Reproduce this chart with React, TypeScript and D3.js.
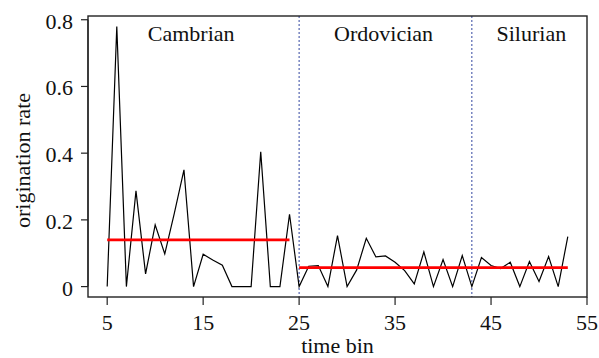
import React from 'react';
import * as d3 from 'd3';

// time bins 5..53 and origination rates
const bins: number[] = d3.range(5, 54);
const rates: number[] = [
  0, 0.78, 0, 0.287, 0.038, 0.185, 0.098, 0.22, 0.35, 0,
  0.097, 0.08, 0.064, 0, 0, 0, 0.404, 0, 0, 0.217,
  0, 0.061, 0.063, 0, 0.153, 0, 0.05, 0.145, 0.089, 0.092,
  0.073, 0.048, 0.008, 0.104, 0, 0.081, 0, 0.093, 0, 0.087,
  0.063, 0.054, 0.073, 0, 0.075, 0.015, 0.09, 0, 0.15,
];

// mean rate per regime (red segments)
const meanSegments = [
  { from: 5, to: 24, value: 0.14 },
  { from: 25, to: 53, value: 0.057 },
];

const boundaries: number[] = [25, 43];
const periods = [
  { name: 'Cambrian', at: 13.75 },
  { name: 'Ordovician', at: 33.8 },
  { name: 'Silurian', at: 49.2 },
];

const xTicks: number[] = [5, 15, 25, 35, 45, 55];
const yTicks: number[] = [0, 0.2, 0.4, 0.6, 0.8];

const W = 599;
const H = 358;
const font = '"Liberation Serif", "Times New Roman", serif';

const App: React.FC = () => {
  const x = d3.scaleLinear().domain([3, 55]).range([88, 587]);
  const y = d3.scaleLinear().domain([-0.0312, 0.8112]).range([297, 16]);

  const [x0, x1] = x.range();
  const [yb, yt] = y.range();

  const line = d3
    .line<number>()
    .x((_, i) => x(bins[i]))
    .y((d) => y(d));

  return (
    <svg
      width={W}
      height={H}
      style={{ position: 'absolute', left: 0, top: 0, background: '#fff' }}
      fontFamily={font}
    >
      {/* regime boundaries */}
      {boundaries.map((b) => (
        <line
          key={b}
          x1={x(b)}
          x2={x(b)}
          y1={yt}
          y2={yb}
          stroke="#3347a0"
          strokeWidth={1}
          strokeDasharray="2 2"
        />
      ))}

      <path d={line(rates) || ''} fill="none" stroke="#000" strokeWidth={1.2} strokeLinejoin="miter" />

      {meanSegments.map((s) => (
        <line
          key={s.from}
          x1={x(s.from)}
          x2={x(s.to)}
          y1={y(s.value)}
          y2={y(s.value)}
          stroke="#ff0000"
          strokeWidth={2.6}
        />
      ))}

      {/* box */}
      <rect x={x0} y={yt} width={x1 - x0} height={yb - yt} fill="none" stroke="#222" strokeWidth={1.4} />

      {/* y axis */}
      {yTicks.map((t) => (
        <g key={t}>
          <line x1={x0 - 7} x2={x0} y1={y(t)} y2={y(t)} stroke="#222" strokeWidth={1.2} />
          <text x={x0 - 15} y={y(t) + 9} textAnchor="end" fontSize={22} fill="#111">
            {t === 0 ? '0' : t.toFixed(1)}
          </text>
        </g>
      ))}
      <line x1={x0} x2={x0} y1={y(0)} y2={y(0.8)} stroke="#222" strokeWidth={1.2} />

      {/* x axis */}
      {xTicks.map((t) => (
        <g key={t}>
          <line x1={x(t)} x2={x(t)} y1={yb} y2={yb + 8} stroke="#222" strokeWidth={1.2} />
          <text x={x(t)} y={yb + 33} textAnchor="middle" fontSize={22} fill="#111">
            {t}
          </text>
        </g>
      ))}

      {periods.map((p) => (
        <text key={p.name} x={x(p.at)} y={40.5} textAnchor="middle" fontSize={22} fill="#111">
          {p.name}
        </text>
      ))}

      <text x={(x0 + x1) / 2} y={353} textAnchor="middle" fontSize={22} fill="#111">
        time bin
      </text>
      <text
        transform={`translate(30, ${(yt + yb) / 2 + 4}) rotate(-90)`}
        textAnchor="middle"
        fontSize={22}
        fill="#111"
      >
        origination rate
      </text>
    </svg>
  );
};

export default App;
